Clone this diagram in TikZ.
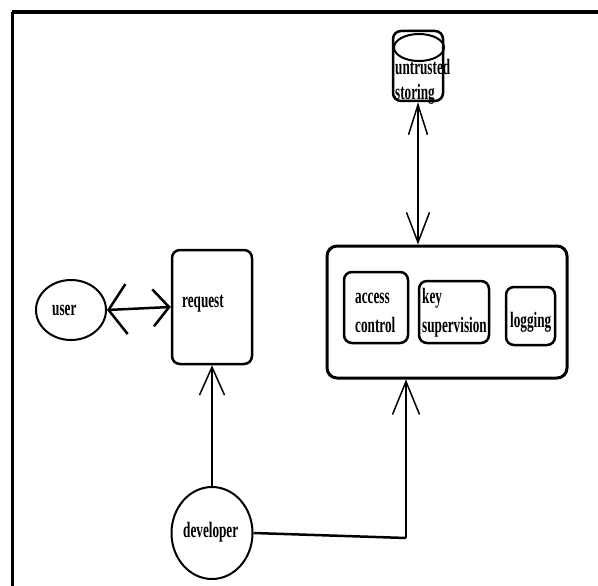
\documentclass[tikz,border=0pt]{standalone}
\usepackage{fontspec}
\newfontfamily\cond[FakeStretch=0.6]{Liberation Serif}
\usetikzlibrary{arrows.meta,shapes.geometric}
\begin{document}
\begin{tikzpicture}[x=1pt,y=-1pt,
  lbl/.style={font=\cond\bfseries\fontsize{22}{29}\selectfont, inner sep=0pt, anchor=base west, align=left},
  rbox/.style={draw, line width=2.5pt, rounded corners=8pt, inner sep=0pt},
  oval/.style={draw, ellipse, line width=2pt, inner sep=0pt},
  conn/.style={line width=1.5pt}]
\useasboundingbox (0,0) rectangle (598,586);
% frame
\coordinate (tl) at (12,12);
\coordinate (tr) at (598,12);
\coordinate (bl) at (12,586);
\draw[line width=4pt] (tr) -- (tl);
\draw[line width=3pt] (tl) -- (bl);
% nodes
\node[oval, minimum width=70pt, minimum height=60pt] (user) at (71,310) {};
\node[lbl] (userlbl) at (52,315) {user};
\node[rbox, minimum width=80pt, minimum height=114pt] (request) at (212,307) {};
\node[lbl] (reqlbl) at (182,307) {request};
\node[rbox, minimum width=50pt, minimum height=70pt] (store) at (418,66) {};
\node[oval, minimum width=50pt, minimum height=27pt] (storetop) at (419,47.5) {};
\node[lbl, font=\cond\bfseries\fontsize{22}{25}\selectfont] (storelbl) at (395,100) {untrusted\\storing};
\node[rbox, line width=3pt, rounded corners=10pt, minimum width=240pt, minimum height=132pt] (big) at (447,312) {};
\node[rbox, minimum width=64pt, minimum height=71pt] (access) at (376,307.5) {};
\node[lbl] (acclbl) at (355,332) {access\\control};
\node[rbox, minimum width=70pt, minimum height=62pt] (key) at (454,312) {};
\node[lbl] (keylbl) at (422,332) {key\\supervision};
\node[rbox, minimum width=49pt, minimum height=58pt] (log) at (530.5,316) {};
\node[lbl] (loglbl) at (510,327) {logging};
\node[oval, minimum width=81pt, minimum height=92pt] (dev) at (212,533) {};
\node[lbl] (devlbl) at (183,537) {developer};
% connectors
\draw[line width=2.5pt, {Straight Barb[length=18pt,width=50pt]}-{Straight Barb[length=16pt,width=37pt]}] (user.east) -- (request.west);
\draw[conn, {Straight Barb[length=30pt,width=19pt]}-{Straight Barb[length=30pt,width=23pt]}] (store.south) -- (store.south |- big.north);
\draw[conn, -{Straight Barb[length=28pt,width=25pt]}] (dev.north) -- (request.south);
\coordinate (bend) at (406,538);
\draw[line width=2.5pt] (dev.east) -- (bend);
\draw[conn, -{Straight Barb[length=33pt,width=27pt]}] (bend) -- (bend |- big.south);
\end{tikzpicture}
\end{document}
